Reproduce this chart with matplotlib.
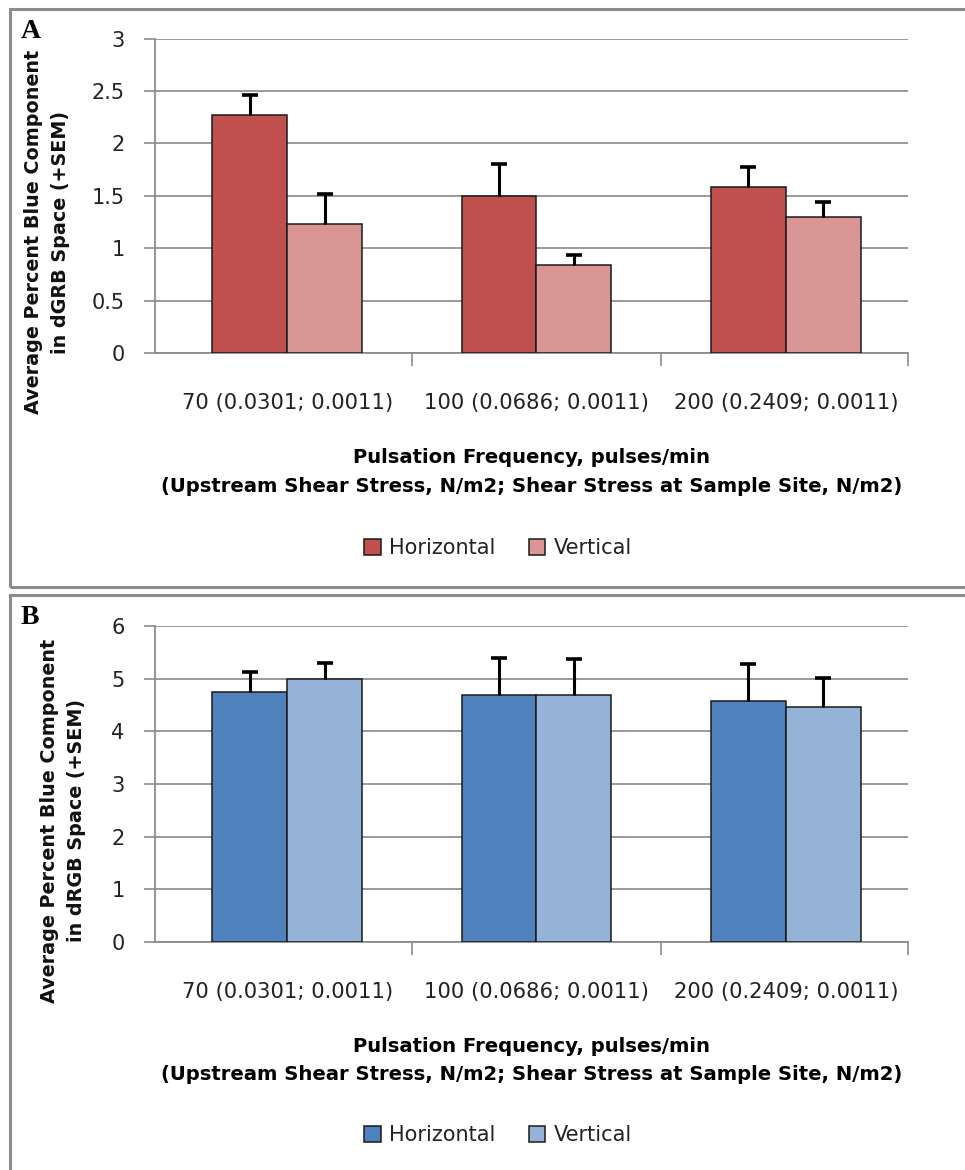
import matplotlib
matplotlib.use("Agg")
import matplotlib.pyplot as plt
from matplotlib.patches import Rectangle

plt.rcParams['font.family'] = ['DejaVu Sans']

# data
categories = ["70 (0.0301; 0.0011)", "100 (0.0686; 0.0011)", "200 (0.2409; 0.0011)"]
series = ["Horizontal", "Vertical"]

a_horizontal = [2.27, 1.50, 1.58]
a_horizontal_sem = [0.19, 0.30, 0.20]
a_vertical = [1.23, 0.84, 1.30]
a_vertical_sem = [0.29, 0.10, 0.145]

b_horizontal = [4.75, 4.70, 4.58]
b_horizontal_sem = [0.39, 0.70, 0.70]
b_vertical = [5.00, 4.70, 4.46]
b_vertical_sem = [0.31, 0.68, 0.55]

a_yticks = [0, 0.5, 1, 1.5, 2, 2.5, 3]
a_yticklabels = ["0", "0.5", "1", "1.5", "2", "2.5", "3"]
b_yticks = [0, 1, 2, 3, 4, 5, 6]
b_yticklabels = ["0", "1", "2", "3", "4", "5", "6"]

a_ylabel = "Average Percent Blue Component\nin dGRB Space (+SEM)"
b_ylabel = "Average Percent Blue Component\nin dRGB Space (+SEM)"
xlabel = ("Pulsation Frequency, pulses/min\n"
          "(Upstream Shear Stress, N/m2; Shear Stress at Sample Site, N/m2)")

W, H = 965, 1170
fig = plt.figure(figsize=(W / 100, H / 100), dpi=100)


def box(x0, y0, x1, y1):
    # pixel box (top-left origin) -> figure fraction rect
    return [x0 / W, 1 - y1 / H, (x1 - x0) / W, (y1 - y0) / H]


def sem_bars(ax, xs, vals, errs):
    # Excel style "plus" error bars: stem up, cap only on top
    tops = [v + e for v, e in zip(vals, errs)]
    ax.vlines(xs, vals, tops, colors="black", linewidth=2.2, zorder=4)
    ax.plot(xs, tops, linestyle="none", marker="_", markersize=11,
            markeredgewidth=2.6, color="black", zorder=4)


def panel(rect, letter, hv, hv_err, vv, vv_err, colors, yticks, yticklabels, ylabel,
          frame, letter_y, ylabel_xy):
    # outer frame of the panel
    fx = box(*frame)
    fig.add_artist(Rectangle((fx[0], fx[1]), fx[2], fx[3], transform=fig.transFigure,
                             fill=False, edgecolor="#8c8c8c", linewidth=2.2))
    fig.text(21 / W, 1 - letter_y / H, letter, family="Liberation Serif",
             fontweight="bold", fontsize=20, va="center", ha="left")

    ax = fig.add_axes(box(*rect))
    x = list(range(len(categories)))
    w = 0.30
    xh = [i - w / 2 for i in x]
    xv = [i + w / 2 for i in x]
    ax.bar(xh, hv, width=w, color=colors[0], edgecolor="#1a1a1a", linewidth=1.1,
           zorder=3, label=series[0])
    ax.bar(xv, vv, width=w, color=colors[1], edgecolor="#1a1a1a", linewidth=1.1,
           zorder=3, label=series[1])
    sem_bars(ax, xh, hv, hv_err)
    sem_bars(ax, xv, vv, vv_err)

    ax.set_xlim(-0.53, 2.49)
    ax.set_ylim(yticks[0], yticks[-1])
    ax.set_yticks(yticks)
    ax.set_yticklabels(yticklabels)
    ax.set_xticks(x)
    ax.set_xticklabels(categories)
    ax.set_xticks([0.5, 1.5, 2.49], minor=True)
    ax.tick_params(axis="x", which="major", length=0, pad=29, labelsize=15.2,
                   labelcolor="#222222")
    ax.tick_params(axis="x", which="minor", length=9, width=1.2, color="#8c8c8c")
    ax.tick_params(axis="y", length=8, width=1.2, color="#8c8c8c", pad=14,
                   labelsize=15, labelcolor="#222222")
    ax.grid(axis="y", color="#9a9a9a", linewidth=1.4, zorder=0)
    for s in ["top", "right"]:
        ax.spines[s].set_visible(False)
    for s in ["left", "bottom"]:
        ax.spines[s].set_color("#8c8c8c")
        ax.spines[s].set_linewidth(1.3)

    fig.text(ylabel_xy[0] / W, 1 - ylabel_xy[1] / H, ylabel, rotation=90,
             fontsize=13.8, fontweight="bold", ha="center", va="center",
             multialignment="center", linespacing=1.55, color="#111111")
    ax.set_xlabel(xlabel, fontsize=14.1, fontweight="bold", labelpad=25,
                  linespacing=1.65)
    return ax


ax_a = panel((155, 38.7, 908, 353), "A", a_horizontal, a_horizontal_sem,
             a_vertical, a_vertical_sem, ["#C0504D", "#D99694"],
             a_yticks, a_yticklabels, a_ylabel, (10, 9, 975, 587), 31, (47, 232))
ax_b = panel((155, 626.3, 908, 941.7), "B", b_horizontal, b_horizontal_sem,
             b_vertical, b_vertical_sem, ["#4F81BD", "#95B3D7"],
             b_yticks, b_yticklabels, b_ylabel, (10, 595, 975, 1180), 617, (63, 821))

for ax, ly in [(ax_a, 548), (ax_b, 1135)]:
    ax.legend(loc="center", bbox_to_anchor=(498 / W, 1 - ly / H),
              bbox_transform=fig.transFigure, ncol=2, frameon=False, fontsize=15,
              handlelength=0.8, handleheight=0.8, handletextpad=0.4,
              columnspacing=1.6, labelcolor="#222222")

fig.savefig("out.png", dpi=100)
